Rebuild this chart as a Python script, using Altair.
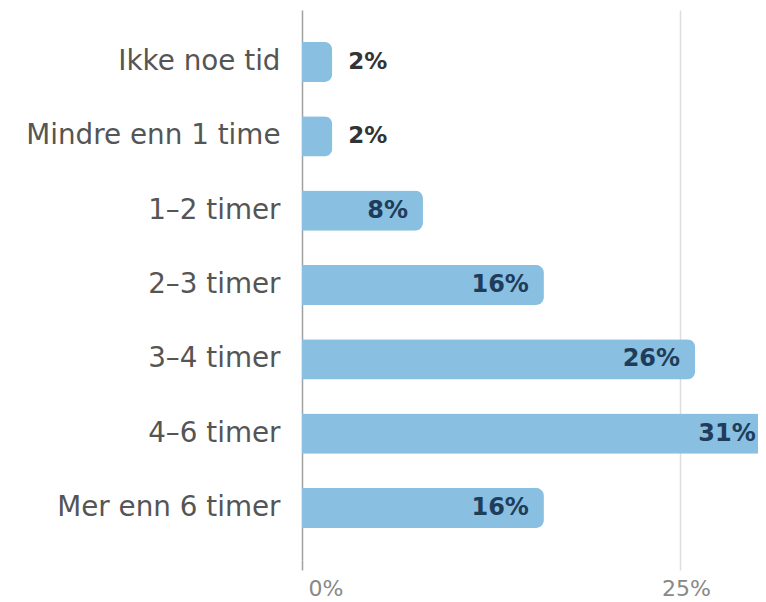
import altair as alt
import pandas as pd

categories = ["Ikke noe tid", "Mindre enn 1 time", "1–2 timer", "2–3 timer",
              "3–4 timer", "4–6 timer", "Mer enn 6 timer"]
values = [2, 2, 8, 16, 26, 31, 16]

df = pd.DataFrame({"cat": categories, "val": values})
df["label"] = [f"{v}%" for v in values]

FONT = "DejaVu Sans"
x_scale = alt.Scale(domain=[0, 30.16], nice=False, zero=True)
y_enc = alt.Y("cat:N", sort=categories,
              scale=alt.Scale(paddingInner=0.46, paddingOuter=0.43),
              axis=alt.Axis(title=None, domain=False, ticks=False, grid=False, labelPadding=22,
                            labelFontSize=27.8, labelColor="#555555", labelFont=FONT,
                            labelLimit=400))

bars = alt.Chart(df).mark_bar(color="#89bfe0", cornerRadiusEnd=8).encode(
    x=alt.X("val:Q", scale=x_scale,
            axis=alt.Axis(title=None, values=[0, 25], labelExpr="datum.value + '%'",
                          domain=False, tickSize=10, labelPadding=8, grid=True,
                          gridColor=alt.condition("datum.value == 0", alt.value("#a0a0a0"), alt.value("#dddddd")),
                          tickColor=alt.condition("datum.value == 0", alt.value("#a0a0a0"), alt.value("#dddddd")),
                          gridWidth=1.5, tickWidth=1.5,
                          labelFontSize=22, labelColor="#888888", labelFont=FONT,
                          labelFlush=True, labelOffset=6)),
    y=y_enc,
)

inside = alt.Chart(df).transform_filter("datum.val >= 5").mark_text(
    align="right", baseline="middle", dx=-15, fontSize=24, fontWeight="bold",
    color="#1f3d5a", font=FONT).encode(
    x=alt.X("val:Q", scale=x_scale), y=alt.Y("cat:N", sort=categories), text="label:N")

outside = alt.Chart(df).transform_filter("datum.val < 5").mark_text(
    align="left", baseline="middle", dx=16, fontSize=23, fontWeight="bold",
    color="#333333", font=FONT).encode(
    x=alt.X("val:Q", scale=x_scale), y=alt.Y("cat:N", sort=categories), text="label:N")

chart = (bars + inside + outside).properties(
    width=456, height=550,
    autosize=alt.AutoSizeParams(type="none"),
    padding={"left": 294, "top": 2, "right": 0, "bottom": 42},
).configure_view(stroke=None)

chart.save("out.html", embed_options={"renderer": "svg", "actions": False})
